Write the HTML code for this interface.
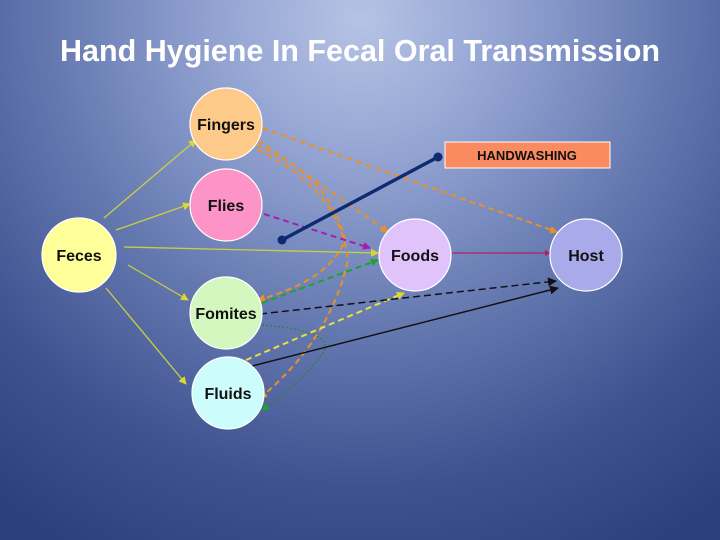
<!DOCTYPE html>
<html><head><meta charset="utf-8"><style>
html,body{margin:0;padding:0}
body{width:720px;height:540px;overflow:hidden;background:radial-gradient(ellipse 600px 600px at 360px 20px,#b6c3e4 0%,#96a6d4 22%,#6478b0 52%,#3f5290 78%,#2e3f7e 100%);font-family:"Liberation Sans",sans-serif}
</style></head><body>
<svg width="720" height="540" viewBox="0 0 720 540" xmlns="http://www.w3.org/2000/svg" style="position:absolute;left:0;top:0">
<defs>
<marker id="aY" markerWidth="8" markerHeight="8" refX="7" refY="4" orient="auto" markerUnits="userSpaceOnUse"><path d="M0,0L8,4L0,8z" fill="#d8d830"/></marker>
<marker id="aO" markerWidth="8" markerHeight="8" refX="7" refY="4" orient="auto" markerUnits="userSpaceOnUse"><path d="M0,0L8,4L0,8z" fill="#e8902a"/></marker>
<marker id="aP" markerWidth="8" markerHeight="8" refX="7" refY="4" orient="auto" markerUnits="userSpaceOnUse"><path d="M0,0L8,4L0,8z" fill="#a020b0"/></marker>
<marker id="aG" markerWidth="8" markerHeight="8" refX="7" refY="4" orient="auto" markerUnits="userSpaceOnUse"><path d="M0,0L8,4L0,8z" fill="#20a030"/></marker>
<marker id="aK" markerWidth="9" markerHeight="9" refX="8" refY="4.5" orient="auto" markerUnits="userSpaceOnUse"><path d="M0,0L9,4.5L0,9z" fill="#111"/></marker>
<marker id="aR" markerWidth="6" markerHeight="6" refX="5" refY="3" orient="auto" markerUnits="userSpaceOnUse"><path d="M0,0L6,3L0,6z" fill="#b02060"/></marker>
</defs>
<text x="60" y="61" textLength="600" lengthAdjust="spacingAndGlyphs" font-family="Liberation Sans,sans-serif" font-weight="bold" font-size="31" fill="#fff">Hand Hygiene In Fecal Oral Transmission</text>

<g stroke="#c8d040" stroke-width="1.3" fill="none">
<line x1="104" y1="218" x2="196" y2="140" marker-end="url(#aY)"/>
<line x1="116" y1="230" x2="190" y2="204" marker-end="url(#aY)"/>
<line x1="124" y1="247" x2="378" y2="253" marker-end="url(#aY)"/>
<line x1="128" y1="265" x2="188" y2="300" marker-end="url(#aY)"/>
<line x1="106" y1="288" x2="186" y2="384" marker-end="url(#aY)"/>
</g>
<g stroke="#e8902a" stroke-width="2" stroke-dasharray="6,4" fill="none">
<line x1="262" y1="128" x2="557" y2="232" marker-end="url(#aO)"/>
<line x1="258" y1="140" x2="388" y2="232" marker-end="url(#aO)"/>
<path d="M256,145 Q330,175 345,240 Q330,280 258,300" marker-end="url(#aO)"/>
<path d="M258,150 Q340,190 348,260 Q330,340 260,398" marker-end="url(#aO)"/>
</g>
<path d="M262,325 Q330,330 325,350 Q300,385 262,410" stroke="#2a8040" stroke-width="1.2" stroke-dasharray="2,2" fill="none" marker-end="url(#aG)"/>
<line x1="264" y1="214" x2="370" y2="248" stroke="#a020b0" stroke-width="2" stroke-dasharray="6,4" marker-end="url(#aP)"/>
<line x1="262" y1="303" x2="378" y2="260" stroke="#20a030" stroke-width="2" stroke-dasharray="6,4" marker-end="url(#aG)"/>
<line x1="246" y1="360" x2="404" y2="293" stroke="#e8e040" stroke-width="2" stroke-dasharray="6,4" marker-end="url(#aY)"/>
<line x1="260" y1="314" x2="556" y2="281" stroke="#111" stroke-width="1.5" stroke-dasharray="7,4" marker-end="url(#aK)"/>
<line x1="252" y1="366" x2="558" y2="288" stroke="#111" stroke-width="1.5" marker-end="url(#aK)"/>
<line x1="452" y1="253" x2="550" y2="253" stroke="#b02060" stroke-width="1.3" marker-end="url(#aR)"/>
<line x1="282" y1="240" x2="438" y2="157" stroke="#0e2a70" stroke-width="3.5"/>
<circle cx="282" cy="240" r="4.5" fill="#0e2a70"/>
<circle cx="438" cy="157" r="4.5" fill="#0e2a70"/>
<rect x="445" y="142" width="165" height="26" fill="#fa8a60" stroke="#fff" stroke-width="1"/>
<text x="527" y="160" text-anchor="middle" font-weight="bold" font-size="13" fill="#111">HANDWASHING</text>

<g stroke="#fff" stroke-width="1.2">
<circle cx="79" cy="255" r="37" fill="#ffff9a"/>
<circle cx="226" cy="124" r="36" fill="#fdca8a"/>
<circle cx="226" cy="205" r="36" fill="#fc94c8"/>
<circle cx="226" cy="313" r="36" fill="#d4f7c0"/>
<circle cx="228" cy="393" r="36" fill="#ccfcfc"/>
<circle cx="415" cy="255" r="36" fill="#dfc3fa"/>
<circle cx="586" cy="255" r="36" fill="#a8aaea"/>
</g>
<g font-weight="bold" font-size="16" text-anchor="middle" fill="#111">
<text x="79" y="261">Feces</text>
<text x="226" y="130">Fingers</text>
<text x="226" y="211">Flies</text>
<text x="226" y="319">Fomites</text>
<text x="228" y="399">Fluids</text>
<text x="415" y="261">Foods</text>
<text x="586" y="261">Host</text>
</g>
</svg>
</body></html>
